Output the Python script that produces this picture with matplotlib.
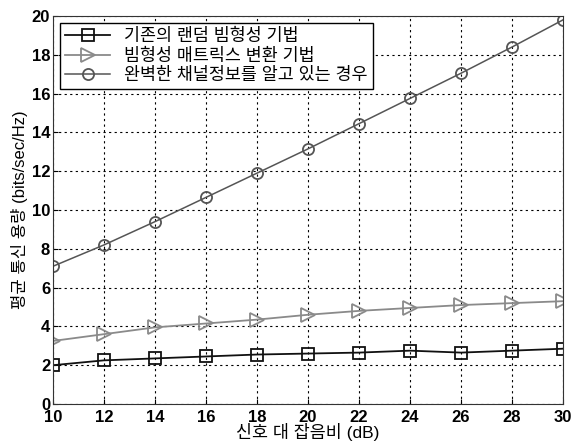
import numpy as np
import matplotlib
matplotlib.use('Agg')
import matplotlib.pyplot as plt

plt.rcParams['font.family'] = ['Liberation Sans', 'Noto Sans CJK KR', 'DejaVu Sans']

snr = [10, 12, 14, 16, 18, 20, 22, 24, 26, 28, 30]
random_bf = [2.0, 2.25, 2.35, 2.45, 2.55, 2.6, 2.65, 2.75, 2.65, 2.75, 2.85]
matrix_bf = [3.25, 3.6, 3.95, 4.15, 4.35, 4.6, 4.8, 4.95, 5.1, 5.2, 5.3]
perfect_csi = [7.1, 8.2, 9.4, 10.65, 11.9, 13.15, 14.45, 15.75, 17.05, 18.4, 19.8]
labels = ['기존의 랜덤 빔형성 기법', '빔형성 매트릭스 변환 기법', '완벽한 채널정보를 알고 있는 경우']

fig = plt.figure(figsize=(5.72, 4.41), dpi=100)
ax = fig.add_axes([53 / 572, 37 / 441, 510 / 572, 388 / 441])

ax.plot(snr, random_bf, color='#111111', marker='s', ms=9, mfc='none', mew=1.3, lw=1.3, label=labels[0])
ax.plot(snr, matrix_bf, color='#8a8a8a', marker='>', ms=10, mfc='none', mew=1.3, lw=1.3, label=labels[1])
ax.plot(snr, perfect_csi, color='#555555', marker='o', ms=8, mfc='none', mew=1.3, lw=1.1, label=labels[2])

ax.set_xlim(10, 30)
ax.set_ylim(0, 20)
ax.set_xticks(np.arange(10, 31, 2))
ax.set_yticks(np.arange(0, 21, 2))
ax.tick_params(direction='in', labelsize=12, pad=2)
ax.tick_params(axis='x', pad=4)
for t in ax.get_xticklabels() + ax.get_yticklabels():
    t.set_fontweight('bold')
ax.grid(True, color='black', linestyle=(0, (2, 3)), linewidth=0.8)
for s in ax.spines.values():
    s.set_color('#333333')

ax.set_xlabel('신호 대 잡음비 (dB)', fontsize=12.5, labelpad=-1)
ax.set_ylabel('평균 통신 용량 (bits/sec/Hz)', fontsize=12, labelpad=3)

leg = ax.legend(loc='upper left', fontsize=12.5, fancybox=False, framealpha=1,
                edgecolor='black', borderaxespad=0.4, handlelength=2.6,
                labelspacing=0.2, borderpad=0.3)
leg.get_frame().set_linewidth(1.0)

fig.savefig('out.png', dpi=100)
